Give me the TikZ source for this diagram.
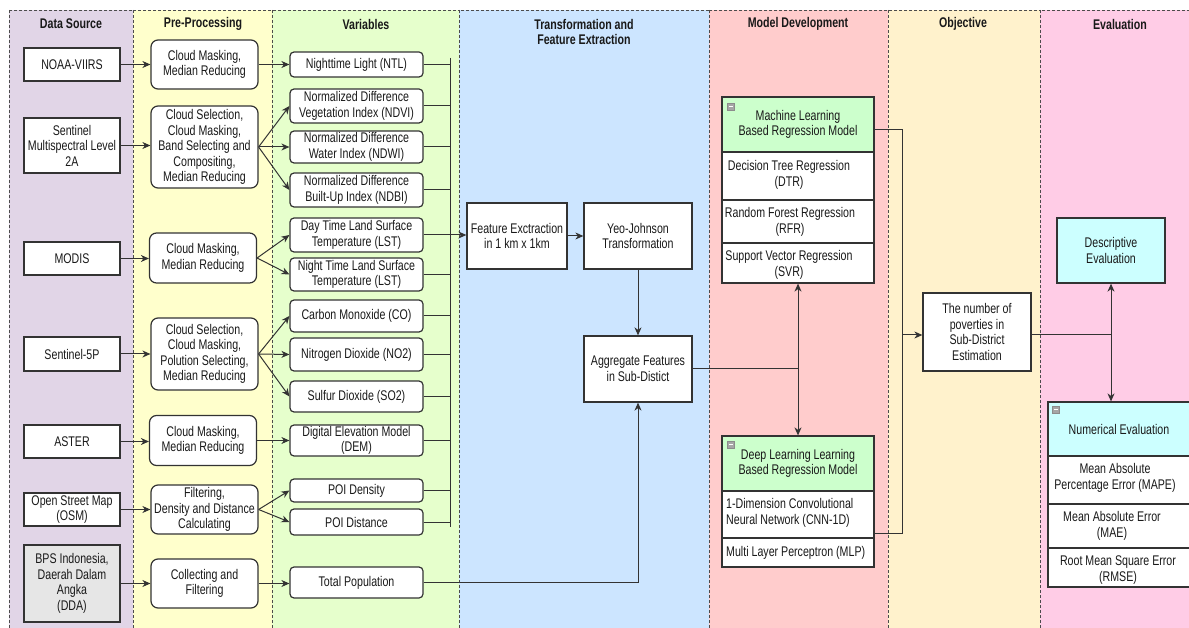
\documentclass[tikz,border=0pt]{standalone}
\usepackage{fontspec}
\setmainfont[FakeStretch=0.76]{Liberation Sans}
\usetikzlibrary{arrows.meta}
\definecolor{lpurple}{HTML}{E1D5E7}
\definecolor{lyellow}{HTML}{FFFFCC}
\definecolor{lgreen}{HTML}{E6FFCC}
\definecolor{lblue}{HTML}{CCE5FF}
\definecolor{lred}{HTML}{FFCCCC}
\definecolor{lcream}{HTML}{FFF2CC}
\definecolor{lpink}{HTML}{FFCCE6}
\definecolor{lcyan}{HTML}{CCFFFF}
\definecolor{hgreen}{HTML}{CCFFCC}
\definecolor{bpsgray}{HTML}{E6E6E6}
\definecolor{ink}{HTML}{333333}
\tikzset{
  lane/.style={draw=black!70, dash pattern=on 3pt off 2pt, line width=0.7pt},
  hdr/.style={font=\fontsize{14}{15.5}\selectfont\bfseries, align=center, text=black!90},
  src/.style={draw=ink, line width=1.3pt, fill=white, minimum width=96pt, inner sep=1pt, align=center},
  proc/.style={draw=ink, line width=1.2pt, rounded corners=7pt, fill=white, minimum width=107pt, inner sep=1pt, align=center},
  var/.style={draw=ink, line width=1.2pt, rounded corners=4pt, fill=white, minimum width=133pt, inner sep=1pt, align=center},
  tbox/.style={draw=ink, line width=1.3pt, fill=white, minimum width=108pt, minimum height=66pt, align=center, inner sep=1pt},
  cell/.style={draw=ink, line width=1.2pt, fill=white, minimum width=152pt, inner sep=0pt},
  ncell/.style={draw=ink, line width=1.2pt, fill=white, minimum width=142pt, inner sep=0pt},
  celltext/.style={align=center, inner sep=0pt},
  icon/.style={draw=black!45, fill=black!35, minimum size=7pt, inner sep=0pt},
  arr/.style={-{Stealth[length=8pt,width=7pt,inset=2.5pt]}, line width=1pt, draw=ink},
  conn/.style={line width=1pt, draw=ink}
}
\begin{document}
\begin{tikzpicture}[x=1pt,y=-1pt, font=\fontsize{14}{15.5}\selectfont, text=black!90]
\useasboundingbox (0,0) rectangle (1189,628);
\clip (0,0) rectangle (1189,628);
\fill[white] (0,0) rectangle (1189,628);
% lanes
\filldraw[lane, fill=lpurple] (9,10) rectangle (133,640);
\filldraw[lane, fill=lyellow] (133,10) rectangle (272,640);
\filldraw[lane, fill=lgreen] (272,10) rectangle (459,640);
\filldraw[lane, fill=lblue] (459,10) rectangle (709,640);
\filldraw[lane, fill=lred] (709,10) rectangle (888,640);
\filldraw[lane, fill=lcream] (888,10) rectangle (1040,640);
\filldraw[lane, fill=lpink] (1040,10) rectangle (1200,640);
% headers
\node[hdr] (h1) at (71,24) {Data Source};
\node[hdr] (h2) at (203,24) {Pre-Processing};
\node[hdr] (h3) at (366,24) {Variables};
\node[hdr] (h4) at (584,32) {Transformation and\\Feature Extraction};
\node[hdr] (h5) at (798,24) {Model Development};
\node[hdr] (h6) at (963,24) {Objective};
\node[hdr] (h7) at (1120,24) {Evaluation};
% data sources
\node[src, minimum height=33pt] (noaa) at (72,64.5) {NOAA-VIIRS};
\node[src, minimum height=55pt] (s2) at (72,145.5) {Sentinel\\Multispectral Level\\2A};
\node[src, minimum height=33pt] (modis) at (72,258.5) {MODIS};
\node[src, minimum height=34pt] (s5p) at (72,354) {Sentinel-5P};
\node[src, minimum height=33pt] (aster) at (72,441.5) {ASTER};
\node[src, minimum height=33pt] (osm) at (72,509.5) {Open Street Map\\(OSM)};
\node[src, fill=bpsgray, minimum height=77pt] (bps) at (72,583.5) {BPS Indonesia,\\Daerah Dalam\\Angka\\(DDA)};
% pre-processing
\node[proc, minimum height=49pt] (p1) at (204.5,64.5) {Cloud Masking,\\Median Reducing};
\node[proc, minimum height=82pt] (p2) at (204.5,147) {Cloud Selection,\\Cloud Masking,\\Band Selecting and\\Compositing,\\Median Reducing};
\node[proc, minimum height=50pt] (p3) at (203,258) {Cloud Masking,\\Median Reducing};
\node[proc, minimum height=72pt] (p4) at (204.5,354) {Cloud Selection,\\Cloud Masking,\\Polution Selecting,\\Median Reducing};
\node[proc, minimum height=50pt] (p5) at (203,440.5) {Cloud Masking,\\Median Reducing};
\node[proc, minimum height=49pt] (p6) at (204.5,509.5) {Filtering,\\Density and Distance\\Calculating};
\node[proc, minimum height=49pt] (p7) at (204.5,583.5) {Collecting and\\Filtering};
% variables
\node[var, minimum height=25pt] (v1) at (356.5,64.5) {Nighttime Light (NTL)};
\node[var, minimum height=34pt] (v2) at (356.5,106) {Normalized Difference\\Vegetation Index (NDVI)};
\node[var, minimum height=32pt] (v3) at (356.5,147) {Normalized Difference\\Water Index (NDWI)};
\node[var, minimum height=34pt] (v4) at (356.5,190) {Normalized Difference\\Built-Up Index (NDBI)};
\node[var, minimum height=34pt] (v5) at (356.5,235) {Day Time Land Surface\\Temperature (LST)};
\node[var, minimum height=33pt] (v6) at (356.5,274.5) {Night Time Land Surface\\Temperature (LST)};
\node[var, minimum height=32pt] (v7) at (356.5,316) {Carbon Monoxide (CO)};
\node[var, minimum height=33pt] (v8) at (356.5,354.5) {Nitrogen Dioxide (NO2)};
\node[var, minimum height=31pt] (v9) at (356.5,396.5) {Sulfur Dioxide (SO2)};
\node[var, minimum height=31pt] (v10) at (356.5,440.5) {Digital Elevation Model\\(DEM)};
\node[var, minimum height=23pt] (v11) at (356.5,490.5) {POI Density};
\node[var, minimum height=26pt] (v12) at (356.5,522) {POI Distance};
\node[var, minimum height=31pt] (v13) at (356.5,582.5) {Total Population};
% transformation
\node[tbox, minimum width=100pt] (fe) at (517,236) {Feature Exctraction\\in 1 km x 1km};
\node[tbox] (yj) at (638,236) {Yeo-Johnson\\Transformation};
\node[tbox] (ag) at (638,369) {Aggregate Features\\in Sub-Distict};
% ML model
\node[cell, fill=hgreen, minimum height=55pt] (mlh) at (798,124.5) {};
\node[celltext] (mlht) at (798,124.5) {Machine Learning\\Based Regression Model};
\node[cell, minimum height=48pt] (dtr) at (798,176) {};
\node[celltext] (dtrt) at (789,175) {Decision Tree Regression\\(DTR)};
\node[cell, minimum height=43pt] (rfr) at (798,221.5) {};
\node[celltext] (rfrt) at (790,222) {Random Forest Regression\\(RFR)};
\node[cell, minimum height=40pt] (svr) at (798,263) {};
\node[celltext] (svrt) at (789,265) {Support Vector Regression\\(SVR)};
\node[icon] (mlicon) at (730.5,106.5) {};
\draw[white, line width=1.2pt] ([xshift=-2pt]mlicon.center) -- ([xshift=2pt]mlicon.center);
% DL model
\node[cell, fill=hgreen, minimum height=55pt] (dlh) at (798,463.5) {};
\node[celltext] (dlht) at (798,463.5) {Deep Learning Learning\\Based Regression Model};
\node[cell, minimum height=47pt] (cnn) at (798,514.5) {};
\node[celltext, align=left, anchor=west] (cnnt) at (726,513) {1-Dimension Convolutional\\Neural Network (CNN-1D)};
\node[cell, minimum height=29pt] (mlp) at (798,552.5) {};
\node[celltext, anchor=west] (mlpt) at (726,553) {Multi Layer Perceptron (MLP)};
\node[icon] (dlicon) at (730.5,444.5) {};
\draw[white, line width=1.2pt] ([xshift=-2pt]dlicon.center) -- ([xshift=2pt]dlicon.center);
% objective
\node[tbox, minimum height=78pt] (obj) at (977,332) {The number of\\poverties in\\Sub-District\\Estimation};
% evaluation
\node[tbox, fill=lcyan, minimum height=65pt] (desc) at (1111,250.5) {Descriptive\\Evaluation};
\node[ncell, fill=lcyan, minimum height=54pt] (numh) at (1119,429) {};
\node[celltext] (numht) at (1119,429) {Numerical Evaluation};
\node[ncell, minimum height=48pt] (mape) at (1119,480) {};
\node[celltext] (mapet) at (1115,478) {Mean Absolute\\Percentage Error (MAPE)};
\node[ncell, minimum height=44pt] (mae) at (1119,526) {};
\node[celltext] (maet) at (1112,526) {Mean Absolute Error\\(MAE)};
\node[ncell, minimum height=39pt] (rmse) at (1119,567.5) {};
\node[celltext] (rmset) at (1118,570) {Root Mean Square Error\\(RMSE)};
\node[icon] (numicon) at (1055.5,409.5) {};
\draw[white, line width=1.2pt] ([xshift=-2pt]numicon.center) -- ([xshift=2pt]numicon.center);
% source -> preprocessing
\foreach \s/\p in {noaa/p1, s2/p2, modis/p3, s5p/p4, aster/p5, osm/p6, bps/p7}
  \draw[arr] (\s.east) -- (\s.east -| \p.west);
% preprocessing -> variables
\draw[arr] (p1.east) -- (v1.west);
\foreach \v in {v2,v3,v4} \draw[arr] (p2.east) -- (\v.west);
\foreach \v in {v5,v6} \draw[arr] (p3.east) -- (\v.west);
\foreach \v in {v7,v8,v9} \draw[arr] (p4.east) -- (\v.west);
\draw[arr] (p5.east) -- (p5.east -| v10.west);
\foreach \v in {v11,v12} \draw[arr] (p6.east) -- (\v.west);
\draw[arr] (p7.east) -- (p7.east -| v13.west);
% bus
\coordinate (bt) at (450,58);
\coordinate (bb) at (450,527);
\draw[conn] (bt) -- (bb);
\foreach \v in {v1,v2,v3,v4,v6,v7,v8,v9,v10,v11,v12}
  \draw[conn] (\v.east) -- (\v.east -| bt);
\draw[arr] (v5.east) -- (v5.east -| fe.west);
% transformation
\draw[arr] (fe) -- (yj);
\draw[arr] (yj) -- (ag);
\draw[arr] (v13.east) -| (ag.south);
% to models
\coordinate (j3) at (798,368);
\draw[conn] (ag.east |- j3) -- (j3);
\draw[arr] (j3) -- (svr.south);
\draw[arr] (j3) -- (dlh.north);
% models -> objective
\coordinate (j1) at (902,335);
\draw[conn] ([yshift=-5.5pt]mlh.east) -| (j1);
\draw[conn] ([yshift=-18.5pt]cnn.east) -| (j1);
\draw[arr] (j1) -- (obj.west |- j1);
% objective -> evaluation
\coordinate (j2) at (1111,335);
\draw[conn] (obj.east |- j2) -- (j2);
\draw[arr] (j2) -- (desc.south);
\draw[arr] (j2) -- (j2 |- numh.north);
\end{tikzpicture}
\end{document}
